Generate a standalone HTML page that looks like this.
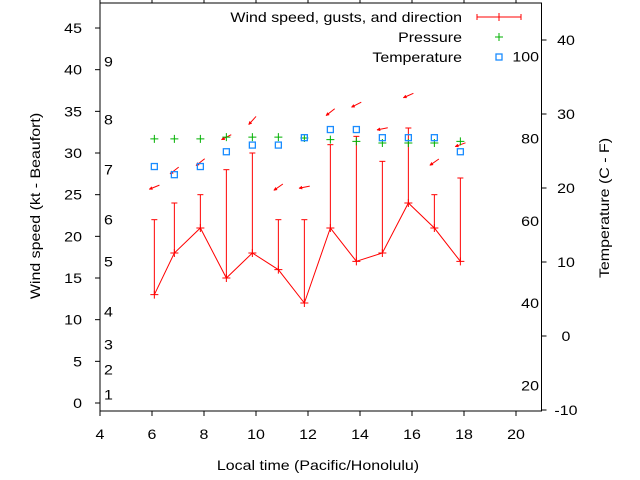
<!DOCTYPE html>
<html><head><meta charset="utf-8"><style>
html,body{margin:0;padding:0;background:#fff;}
svg{display:block;font-family:"Liberation Sans",sans-serif;}
</style></head><body>
<svg id="c" width="640" height="480" viewBox="0 0 640 480" xmlns="http://www.w3.org/2000/svg"></svg>
<script>
const times=[6.09,6.86,7.86,8.86,9.86,10.86,11.86,12.86,13.86,14.86,15.86,16.86,17.86];
const wind=[13,18,21,15,18,16,12,21,17,18,24,21,17];
const gust=[22,24,25,28,30,22,22,31,32,29,33,25,27];
const pressure=[31.7,31.7,31.7,31.9,31.9,31.9,31.8,31.6,31.4,31.2,31.2,31.2,31.4];
const tempC=[22.9,21.8,22.9,24.9,25.8,25.8,26.8,27.9,27.9,26.8,26.8,26.8,24.9];
const arrowY=[25.9,27.9,28.9,31.9,33.9,25.9,25.9,34.9,35.8,32.9,36.9,28.9,31];
const dirDeg=[68,52,52,63,42,55,79,52,63,79,66,55,70];
const xTicks=[4,6,8,10,12,14,16,18,20];
const yTicks=[0,5,10,15,20,25,30,35,40,45];
const cTicks=[-10,0,10,20,30,40];
const fTicks=[20,40,60,80,100];
const bftLabels=[1,2,3,4,5,6,7,8,9];
const bftKt=[1,4,7,11,17,22,28,34,41];

const L=100,R=541.5,T=3,B=411;
const X=t=>L+(t-4)*26;
const Y=k=>403-k*8.333;
const YC=c=>410-(c+10)*7.4;
const svg=document.getElementById('c');
const NS='http://www.w3.org/2000/svg';
const allText=[];
function mk(tag,at,parent){const e=document.createElementNS(NS,tag);for(const k in at)e.setAttribute(k,at[k]);(parent||svg).appendChild(e);return e;}
function txt(s,x,y,anchor,name){const e=mk('text',{x:x,y:y,'font-size':14,fill:'#000','text-anchor':anchor});e.textContent=s;allText.push(e);return e;}

const frame=mk('rect',{x:L,y:T,width:R-L,height:B-T,fill:'none',stroke:'#000','stroke-width':1});



xTicks.forEach(t=>{
  const a=mk('line',{x1:X(t),x2:X(t),y1:B,y2:B+5,stroke:'#000'});
  
  
  const b=mk('line',{x1:X(t),x2:X(t),y1:T,y2:T-5,stroke:'#000'});
  
  
  txt(String(t),X(t),439,'middle','x-tick-label');
});
yTicks.forEach(v=>{
  const a=mk('line',{x1:L,x2:L-5,y1:Y(v),y2:Y(v),stroke:'#000'});
  
  
  txt(String(v),82,Y(v)+5,'end','y-tick-label');
});
cTicks.forEach(v=>{
  const a=mk('line',{x1:R,x2:R+5,y1:YC(v),y2:YC(v),stroke:'#000'});
  
  
  txt(String(v),566,YC(v)+5,'middle','y2-tick-label');
});
fTicks.forEach(f=>{
  txt(String(f),539,YC((f-32)*5/9)+5,'end','fahrenheit-label');
});
bftLabels.forEach((b,i)=>{
  txt(String(b),104,Y(bftKt[i])+5,'start','beaufort-label');
});

times.forEach((t,i)=>{
  const e=mk('line',{x1:X(t),x2:X(t),y1:Y(wind[i]),y2:Y(gust[i]),stroke:'#f00'});
  
  
  const c=mk('line',{x1:X(t)-3,x2:X(t)+3,y1:Y(gust[i]),y2:Y(gust[i]),stroke:'#f00'});
  
  
});
const wl=mk('polyline',{points:times.map((t,i)=>X(t)+','+Y(wind[i])).join(' '),fill:'none',stroke:'#f00'});


times.forEach((t,i)=>{
  const p=mk('path',{d:`M${X(t)-4},${Y(wind[i])}h8M${X(t)},${Y(wind[i])-4}v8`,stroke:'#f00'});
  
  
});
times.forEach((t,i)=>{
  const a=dirDeg[i]*Math.PI/180, len=11;
  const dx=Math.sin(a)*len/2, dy=-Math.cos(a)*len/2;
  const cx=X(t), cy=Y(arrowY[i]);
  const tx=cx-dx, ty=cy-dy;
  const ux=-Math.sin(a), uy=Math.cos(a);
  const hx=tx-ux*3, hy=ty-uy*3;
  const g=mk('g',{});
  
  
  mk('line',{x1:cx+dx,y1:cy+dy,x2:tx,y2:ty,stroke:'#f00'},g);
  mk('polygon',{points:`${tx},${ty} ${hx-uy*1.5},${hy+ux*1.5} ${hx+uy*1.5},${hy-ux*1.5}`,fill:'#f00',stroke:'#f00','stroke-width':0.5},g);
});
times.forEach((t,i)=>{
  const p=mk('path',{d:`M${X(t)-4},${Y(pressure[i])}h8M${X(t)},${Y(pressure[i])-4}v8`,stroke:'#00b000'});
  
  
});
times.forEach((t,i)=>{
  const s=mk('rect',{x:X(t)-3,y:YC(tempC[i])-3,width:6,height:6,fill:'none',stroke:'#1a8cff','stroke-width':1.3});
  
  
});
txt('Wind speed, gusts, and direction',462,22,'end','legend-wind-label');
const lw=mk('path',{d:'M477,17h44M477,14v6M521,14v6M499,13v8',stroke:'#f00'});


txt('Pressure',462,42,'end','legend-pressure-label');
const lp=mk('path',{d:'M495,37h8M499,33v8',stroke:'#00b000'});


txt('Temperature',462,62,'end','legend-temperature-label');
const lt=mk('rect',{x:496,y:54,width:6,height:6,fill:'none',stroke:'#1a8cff','stroke-width':1.3});


txt('Local time (Pacific/Honolulu)',318,470,'middle','x-axis-title');
const yt=txt('Wind speed (kt - Beaufort)',0,0,'middle','y-axis-title');
yt.setAttribute('transform','translate(40,206) rotate(-90)');
const y2=txt('Temperature (C - F)',0,0,'middle','y2-axis-title');
y2.setAttribute('transform','translate(609,208) rotate(-90)');

// widen text to match reference glyph width
allText.forEach(e=>{
  const w=e.getComputedTextLength();
  if(w>0){
    e.setAttribute('textLength',(w*1.14).toFixed(1));
    e.setAttribute('lengthAdjust','spacingAndGlyphs');
  }
});
</script>
</body></html>
